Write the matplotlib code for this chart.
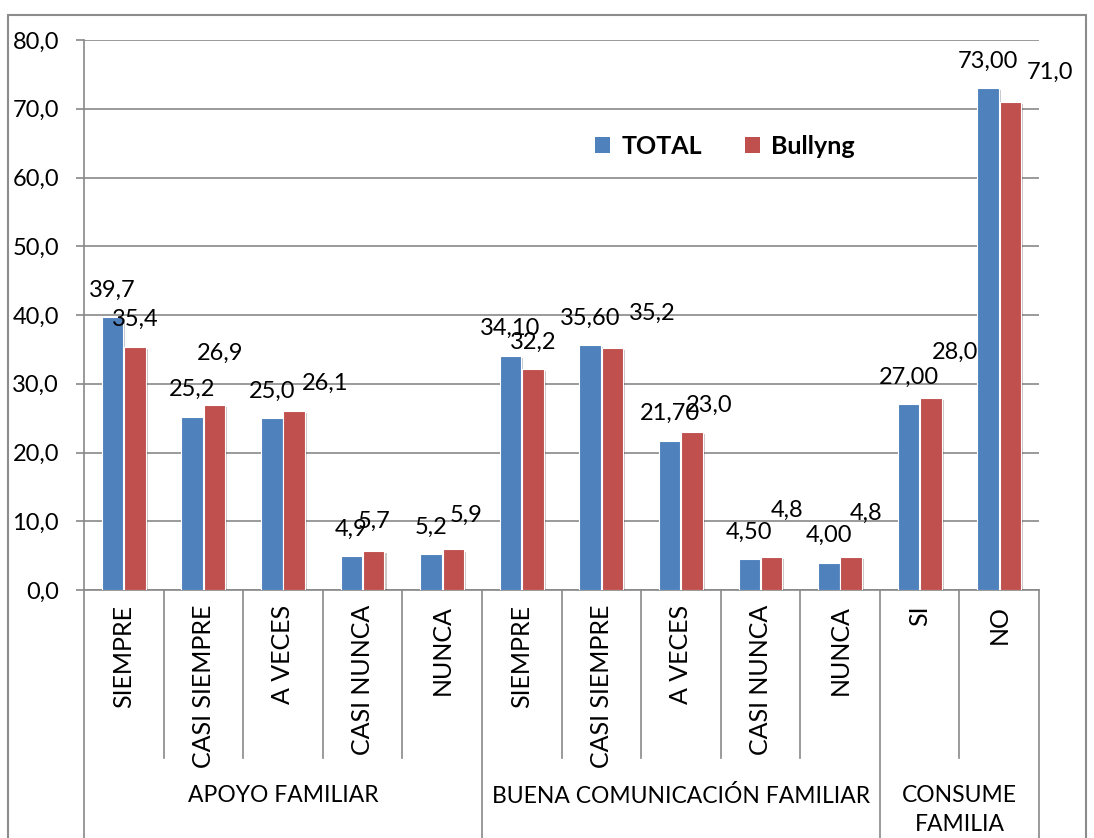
import matplotlib
matplotlib.use("Agg")
import matplotlib.pyplot as plt
import matplotlib.transforms as mtransforms
import matplotlib.patheffects as pe
from matplotlib.patches import Rectangle, Patch
import numpy as np

plt.rcParams['font.family'] = ['Lato', 'DejaVu Sans']

# ---------------- data ----------------
categories = ["SIEMPRE", "CASI SIEMPRE", "A VECES", "CASI NUNCA", "NUNCA",
              "SIEMPRE", "CASI SIEMPRE", "A VECES", "CASI NUNCA", "NUNCA",
              "SI", "NO"]
groups = ["APOYO FAMILIAR", "BUENA COMUNICACIÓN FAMILIAR", "CONSUME\nFAMILIA"]
group_sizes = [5, 5, 2]
total = [39.7, 25.2, 25.0, 4.9, 5.2, 34.1, 35.6, 21.7, 4.5, 4.0, 27.0, 73.0]
bullyng = [35.4, 26.9, 26.1, 5.7, 5.9, 32.2, 35.2, 23.0, 4.8, 4.8, 28.0, 71.0]
total_labels = ["39,7", "25,2", "25,0", "4,9", "5,2", "34,10", "35,60", "21,70",
                "4,50", "4,00", "27,00", "73,00"]
bullyng_labels = ["35,4", "26,9", "26,1", "5,7", "5,9", "32,2", "35,2", "23,0",
                  "4,8", "4,8", "28,0", "71,0"]
series_names = ["TOTAL", "Bullyng"]
yticks = [0, 10, 20, 30, 40, 50, 60, 70, 80]

# ---------------- styling ----------------
c_blue = "#4F81BD"
c_red = "#C0504D"
grid_c = "#898989"
fs = 17
# label offsets in pixels (dx, dy) relative to top-centre of the bar
total_off = [(0, 27)] * 12
bull_off = [(0, 27), (6, 52), (31, 27), (0, 29), (13, 34), (0, 26), (40, 35),
            (17, 27), (15, 47), (15, 44), (24, 45), (40, 30)]

W, H = 1094, 838
fig = plt.figure(figsize=(W / 100, H / 100), dpi=100)
ax_l, ax_r, ax_t, ax_b = 84, 1039, 40, 590
ax = fig.add_axes([ax_l / W, 1 - ax_b / H, (ax_r - ax_l) / W, (ax_b - ax_t) / H])

n = len(categories)
x = np.arange(n)
bw = 0.27
off = 0.14
shadow = [pe.SimplePatchShadow(offset=(1.5, -1.5), alpha=0.25), pe.Normal()]
b1 = ax.bar(x - off, total, width=bw, color=c_blue, edgecolor="white", linewidth=0.8, zorder=3)
b2 = ax.bar(x + off, bullyng, width=bw, color=c_red, edgecolor="white", linewidth=0.8, zorder=3)
for b in list(b1) + list(b2):
    b.set_path_effects(shadow)

for i in range(n):
    ax.annotate(total_labels[i], (x[i] - off, total[i]), xytext=total_off[i],
                textcoords="offset pixels", ha="center", va="center", fontsize=fs, zorder=5)
    ax.annotate(bullyng_labels[i], (x[i] + off, bullyng[i]), xytext=bull_off[i],
                textcoords="offset pixels", ha="center", va="center", fontsize=fs, zorder=5,
                annotation_clip=False)

ax.set_xlim(-0.5, n - 0.5)
ax.set_ylim(0, 80)
ax.set_yticks(yticks)
ax.set_yticklabels([f"{v:.1f}".replace(".", ",") for v in yticks], fontsize=fs)
ax.tick_params(axis="y", length=6, width=1.2, color=grid_c, pad=12)
ax.set_xticks([])
ax.yaxis.grid(True, color=grid_c, linewidth=1.2, zorder=0)
ax.set_axisbelow(True)
for s in ["top", "right"]:
    ax.spines[s].set_visible(False)
for s in ["left", "bottom"]:
    ax.spines[s].set_color(grid_c)
    ax.spines[s].set_linewidth(1.2)

# category separators and labels
trans = mtransforms.blended_transform_factory(ax.transData, ax.transAxes)
px = 1.0 / (ax_b - ax_t)
inner_bottom = -(758 - ax_b) * px
outer_bottom = -(850 - ax_b) * px
bounds = np.cumsum([0] + group_sizes)
for k in range(n + 1):
    xb = k - 0.5
    ybot = outer_bottom if k in bounds else inner_bottom
    ax.plot([xb, xb], [0, ybot], transform=trans, color=grid_c, lw=1.2,
            clip_on=False, zorder=2)
for i, c in enumerate(categories):
    ax.text(x[i], -(605 - ax_b) * px, c, transform=trans, rotation=90,
            ha="center", va="top", fontsize=18)
for g, name in enumerate(groups):
    cx = (bounds[g] + bounds[g + 1] - 1) / 2
    ax.text(cx, -(785 - ax_b) * px, name, transform=trans, ha="center", va="top",
            fontsize=16.5, linespacing=1.45)

# legend
handles = [Patch(facecolor=c_blue, edgecolor="none"), Patch(facecolor=c_red, edgecolor="none")]
fig.legend(handles, series_names, loc="center", bbox_to_anchor=(725 / W, 1 - 146 / H),
           ncol=2, frameon=False, prop={"weight": "bold", "size": 18},
           handlelength=0.6, handleheight=0.6, handletextpad=0.45, columnspacing=1.7)

# outer frame
fig.patches.append(Rectangle((8 / W, -0.05), (1086 - 8) / W, 1.05 - 15 / H,
                             transform=fig.transFigure, fill=False,
                             edgecolor="#8c8c8c", linewidth=1.5))

fig.savefig("out.png", dpi=100, facecolor="white")
